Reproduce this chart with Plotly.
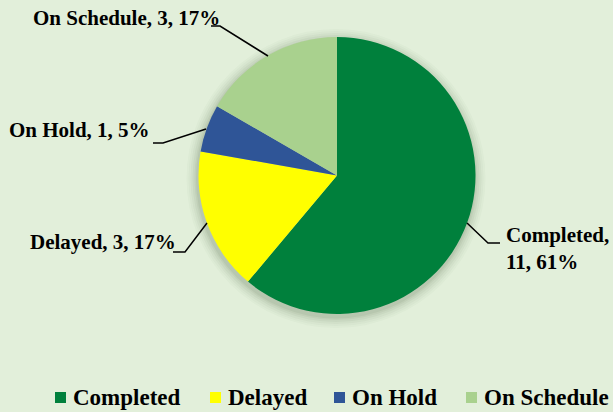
import plotly.graph_objects as go

categories = ["Completed", "Delayed", "On Hold", "On Schedule"]
values = [11, 3, 1, 3]
pct_labels = ["61%", "17%", "5%", "17%"]
colors = ["#00803C", "#FFFF00", "#2F5597", "#A9D18E"]

W, H = 613, 412
BG = "#E2EFDA"
FONT = "Liberation Serif"

def px(x):
    return x / W

def py(y):
    return 1 - y / H

# pie geometry (pixels)
cx, cy, r = 337, 175.5, 138.5

fig = go.Figure()

# soft shadow behind the pie
shapes = []
for dr, op in [(11, 0.025), (9, 0.03), (7, 0.04), (5, 0.05), (3, 0.06), (1.5, 0.07)]:
    rr = r + dr
    shapes.append(dict(type="circle", xref="paper", yref="paper",
                       x0=px(cx - rr - 1), x1=px(cx + rr - 1),
                       y0=py(cy + rr + 3), y1=py(cy - rr + 3),
                       fillcolor=f"rgba(60,80,50,{op})", line=dict(width=0),
                       layer="below"))

fig.add_trace(go.Pie(
    labels=categories, values=values, sort=False, direction="clockwise",
    rotation=0, marker=dict(colors=colors, line=dict(width=0)),
    textinfo="none", hoverinfo="label+value+percent", showlegend=False,
    domain=dict(x=[px(cx - r), px(cx + r)], y=[py(cy + r), py(cy - r)]),
))

# leader lines
leaders = [
    [(211, 26), (220, 26), (268, 56)],
    [(153, 143), (163, 143), (206, 129)],
    [(173, 252), (185, 252), (207, 223)],
    [(467, 223), (488, 243), (500, 243)],
]
for pts in leaders:
    path = "M " + " L ".join(f"{px(x)},{py(y)}" for x, y in pts)
    shapes.append(dict(type="path", xref="paper", yref="paper", path=path,
                       line=dict(color="black", width=1.5)))

lab = [f"{c}, {v}, {p}" for c, v, p in zip(categories, values, pct_labels)]
ann_specs = [
    (lab[3], 222, 18, "right"),
    (lab[2], 152, 130, "right"),
    (lab[1], 178, 242, "right"),
    (f"{categories[0]},<br>{values[0]}, {pct_labels[0]}", 504, 249, "left"),
]
annotations = []
for text, x, y, anc in ann_specs:
    annotations.append(dict(text=f"<b>{text}</b>", x=px(x), y=py(y), xref="paper",
                            yref="paper", xanchor=anc, yanchor="middle",
                            showarrow=False, align="left",
                            font=dict(family=FONT, size=21, color="black")))

# legend (drawn manually to match the compact swatch spacing)
sw_x = [55, 210, 334, 466]
for cat, col, x in zip(categories, colors, sw_x):
    shapes.append(dict(type="rect", xref="paper", yref="paper",
                       x0=px(x), x1=px(x + 11), y0=py(403), y1=py(392),
                       fillcolor=col, line=dict(width=0)))
    annotations.append(dict(text=f"<b>{cat}</b>", x=px(x + 16), y=py(397),
                            xref="paper", yref="paper", xanchor="left",
                            yanchor="middle", showarrow=False,
                            font=dict(family=FONT, size=23, color="black")))

fig.update_layout(
    width=W, height=H, margin=dict(l=0, r=0, t=0, b=0),
    paper_bgcolor=BG, plot_bgcolor=BG,
    shapes=shapes, annotations=annotations,
    showlegend=False,
)

fig.write_html("out.html", config={"displayModeBar": False},
               post_script="document.body.style.margin='0';")
